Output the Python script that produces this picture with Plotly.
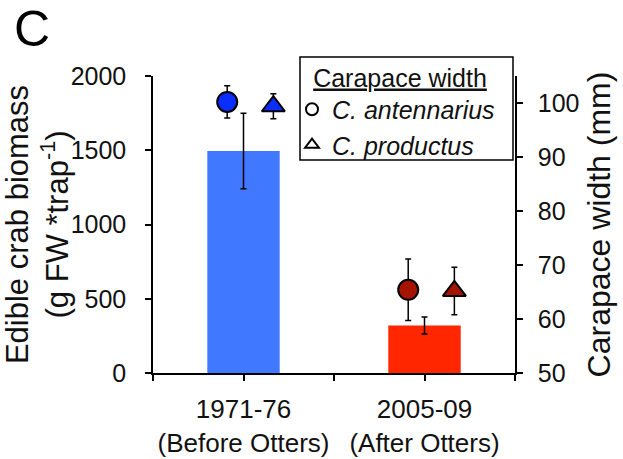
import plotly.graph_objects as go

# ---- data ----
periods = ["1971-76<br>(Before Otters)", "2005-09<br>(After Otters)"]
biomass = [1495, 320]
biomass_err = [255, 57]
bar_colors = ["#4079FF", "#FF2600"]

antennarius_width = [100.2, 65.4]
antennarius_err = [3.0, 5.7]
productus_width = [99.4, 65.2]
productus_err = [2.3, 4.4]
marker_colors = ["#0A2EFF", "#A51400"]

left_ticks = [0, 500, 1000, 1500, 2000]
right_ticks = [50, 60, 70, 80, 90, 100]

# ---- layout constants ----
W, H = 623, 459
L, R, T, B = 153, 108, 76, 86
PW, PH = W - L - R, H - T - B
FONT = "Liberation Sans, Arial, sans-serif"
idx = list(range(len(periods)))
OFF_C, OFF_T = -0.09, 0.165


def px_x(p):
    return (p - L) / PW


def px_y(p):
    return (H - B - p) / PH


fig = go.Figure()

fig.add_trace(go.Bar(
    x=idx, y=biomass, width=0.4,
    marker=dict(color=bar_colors, line=dict(width=0)),
    error_y=dict(type="data", array=biomass_err, color="black", thickness=1.5, width=3),
    showlegend=False, hoverinfo="skip"))

fig.add_trace(go.Scatter(
    x=[i + OFF_C for i in idx], y=antennarius_width, yaxis="y2", mode="markers",
    marker=dict(symbol="circle", size=20, color=marker_colors, line=dict(color="black", width=2)),
    error_y=dict(type="data", array=antennarius_err, color="black", thickness=1.5, width=3),
    showlegend=False, hoverinfo="skip"))

fig.add_trace(go.Scatter(
    x=[i + OFF_T for i in idx], y=productus_width, yaxis="y2", mode="markers",
    marker=dict(symbol="triangle-up", size=20, color=marker_colors, line=dict(color="black", width=2)),
    error_y=dict(type="data", array=productus_err, color="black", thickness=1.5, width=3),
    showlegend=False, hoverinfo="skip"))

# legend-only entries (open symbols)
fig.add_trace(go.Scatter(
    x=[None], y=[None], yaxis="y2", mode="markers", name="<i>C. antennarius</i>",
    marker=dict(symbol="circle-open", size=13, color="black", line=dict(width=2))))
fig.add_trace(go.Scatter(
    x=[None], y=[None], yaxis="y2", mode="markers", name="<i>C. productus</i>",
    marker=dict(symbol="triangle-up-open", size=13, color="black", line=dict(width=2))))

axis_common = dict(showline=True, linecolor="black", linewidth=1.5, showgrid=False,
                   zeroline=False, ticks="outside", ticklen=6, tickwidth=1.5, tickcolor="black")

fig.update_layout(
    width=W, height=H,
    margin=dict(l=L, r=R, t=T, b=B, autoexpand=False),
    paper_bgcolor="white", plot_bgcolor="white",
    font=dict(family=FONT, color="#111"),
    xaxis=dict(**axis_common, range=[-0.5, 1.5], tickmode="array", tickvals=idx,
               ticktext=periods, ticklabelstandoff=6,
               tickfont=dict(size=26, color="#111", family=FONT),
               minor=dict(tickmode="array", tickvals=[-0.5, 0.5, 1.5], ticks="outside",
                          ticklen=6, tickwidth=1.5, tickcolor="black")),
    yaxis=dict(**axis_common, range=[0, 2000], tickmode="array", tickvals=left_ticks,
               ticklabelstandoff=14,
               tickfont=dict(size=25, color="#111", family=FONT),
               title=dict(text="Edible crab biomass<br>(g FW *trap<sup>-1</sup>)",
                          font=dict(size=31, family=FONT, color="#111"), standoff=1)),
    yaxis2=dict(**axis_common, overlaying="y", side="right", range=[50, 105],
                tickmode="array", tickvals=right_ticks, ticklabelstandoff=10,
                tickfont=dict(size=25, color="#111", family=FONT),
                title=dict(text="Carapace width (mm)",
                           font=dict(size=32, family=FONT, color="#111"), standoff=9)),
    legend=dict(x=px_x(300), xanchor="left", y=px_y(54), yanchor="top",
                borderwidth=0, bgcolor="rgba(0,0,0,0)", indentation=-8,
                font=dict(size=25, family=FONT, color="#111"),
                title=dict(text="<u>Carapace width</u>", side="top center",
                           font=dict(size=25, family=FONT, color="#111")),
                tracegroupgap=0, itemsizing="constant"),
    bargap=0.6,
    showlegend=True,
)

# legend frame
fig.add_shape(type="rect", xref="paper", yref="paper",
              x0=px_x(300), x1=px_x(513), y0=px_y(160), y1=px_y(57),
              line=dict(color="black", width=1.5), fillcolor="white", layer="above")

fig.add_annotation(text="C", xref="paper", yref="paper",
                   x=px_x(12), y=px_y(-1),
                   xanchor="left", yanchor="top", showarrow=False,
                   font=dict(size=50, family=FONT, color="black"))

fig.write_html("out.html", config={"displayModeBar": False},
               post_script="document.body.style.margin='0px';")
